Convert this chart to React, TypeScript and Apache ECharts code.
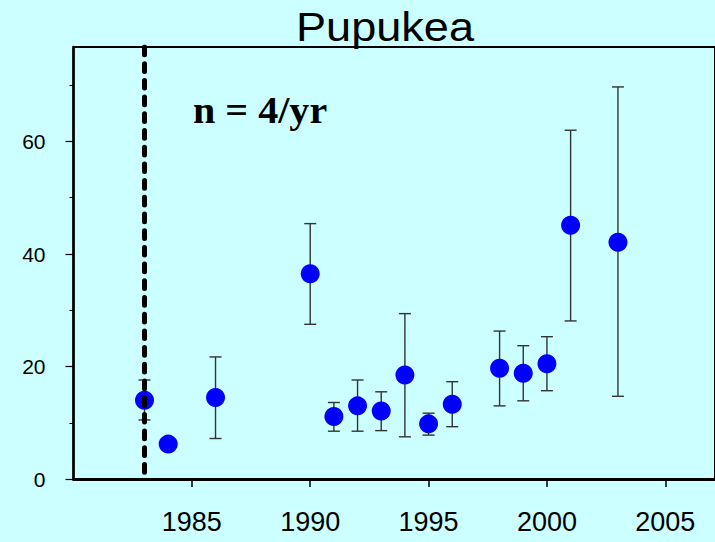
import React, { useEffect, useRef } from "react";
import * as echarts from "echarts";

const years = [1983, 1984, 1986, 1990, 1991, 1992, 1993, 1994, 1995, 1996, 1998, 1999, 2000, 2001, 2003];
const means = [14.0, 6.2, 14.5, 36.5, 11.1, 13.0, 12.1, 18.5, 9.8, 13.3, 19.7, 18.8, 20.5, 45.1, 42.1];
const lows = [10.5, 6.2, 7.2, 27.5, 8.5, 8.5, 8.6, 7.5, 7.8, 9.3, 13.0, 13.9, 15.7, 28.1, 14.7];
const highs = [17.6, 6.2, 21.7, 45.4, 13.6, 17.6, 15.5, 29.4, 11.7, 17.3, 26.3, 23.7, 25.3, 62.0, 69.7];
const xTickLabels = [1985, 1990, 1995, 2000, 2005];
const yTickLabels = [0, 20, 40, 60];
const yMinorTicks = [10, 30, 50, 70];
const startYear = 1983;
const titleText = "Pupukea";
const noteText = "n = 4/yr";

const X_MIN = 1980;
const X_MAX = 2007.1;
const Y_MAX = 76.8;

export default function App() {
  const ref = useRef<HTMLDivElement>(null);
  useEffect(() => {
    if (!ref.current) return;
    const chart = echarts.init(ref.current, undefined, { renderer: "svg" });
    const errData = years.map((y, i) => [y, lows[i], highs[i]]);
    chart.setOption({
      animation: false,
      backgroundColor: "#ccffff",
      grid: {
        left: 73.5,
        top: 47,
        bottom: 63,
        right: -3,
        show: true,
        borderColor: "#000",
        borderWidth: 2,
        backgroundColor: "transparent",
      },
      graphic: [
        {
          type: "text",
          x: 385,
          y: 27,
          scaleX: 1.1,
          style: {
            text: titleText,
            font: "41px 'Liberation Sans', Arial, sans-serif",
            fill: "#000",
            align: "center",
            verticalAlign: "middle",
          },
        },
        {
          type: "text",
          x: 193,
          y: 110,
          scaleX: 1.055,
          style: {
            text: noteText,
            font: "bold 38px 'Liberation Serif', 'Times New Roman', serif",
            fill: "#000",
            align: "left",
            verticalAlign: "middle",
          },
        },
      ],
      xAxis: {
        type: "value",
        min: X_MIN,
        max: X_MAX,
        axisLine: { show: true, lineStyle: { color: "#000", width: 3 } },
        axisTick: { show: true, length: 8, customValues: xTickLabels, lineStyle: { color: "#000", width: 1.5 } },
        axisLabel: {
          customValues: xTickLabels,
          formatter: (v: number) => String(v),
          margin: 29,
          fontSize: 27,
          fontFamily: "'Liberation Sans', Arial, sans-serif",
          color: "#000",
        },
        splitLine: { show: false },
      },
      yAxis: [
        {
          type: "value",
          min: 0,
          max: Y_MAX,
          axisLine: { show: true, lineStyle: { color: "#000", width: 2.5 } },
          axisTick: { show: true, length: 8, customValues: yTickLabels, lineStyle: { color: "#000", width: 1.2 } },
          axisLabel: {
            customValues: yTickLabels,
            formatter: (v: number) => String(v),
            margin: 28,
            fontSize: 21,
            fontFamily: "'Liberation Sans', Arial, sans-serif",
            color: "#000",
          },
          splitLine: { show: false },
        },
        {
          type: "value",
          min: 0,
          max: Y_MAX,
          position: "left",
          axisLine: { show: false },
          axisTick: { show: true, length: 4, customValues: yMinorTicks, lineStyle: { color: "#000", width: 1 } },
          axisLabel: { show: false },
          splitLine: { show: false },
        },
      ],
      series: [
        {
          type: "custom",
          z: 2,
          data: errData,
          renderItem: (params: any, api: any) => {
            const x = api.value(0);
            const lo = api.coord([x, api.value(1)]);
            const hi = api.coord([x, api.value(2)]);
            const hw = 6;
            const st = { stroke: "#333", lineWidth: 1.4 };
            return {
              type: "group",
              children: [
                { type: "line", shape: { x1: lo[0], y1: lo[1], x2: hi[0], y2: hi[1] }, style: st },
                { type: "line", shape: { x1: hi[0] - hw, y1: hi[1], x2: hi[0] + hw, y2: hi[1] }, style: st },
                { type: "line", shape: { x1: lo[0] - hw, y1: lo[1], x2: lo[0] + hw, y2: lo[1] }, style: st },
              ],
            };
          },
        },
        {
          type: "scatter",
          z: 3,
          symbolSize: 19,
          itemStyle: { color: "#0000ff", opacity: 1 },
          data: years.map((y, i) => [y, means[i]]),
        },
        {
          type: "line",
          z: 5,
          symbol: "none",
          lineStyle: { color: "#000", width: 5, type: [7.7, 9], cap: "round" },
          data: [
            [startYear, Y_MAX],
            [startYear, 0],
          ],
        },
      ],
    });
    return () => chart.dispose();
  }, []);
  return <div ref={ref} style={{ width: 715, height: 542, position: "absolute", left: 0, top: 0 }} />;
}
